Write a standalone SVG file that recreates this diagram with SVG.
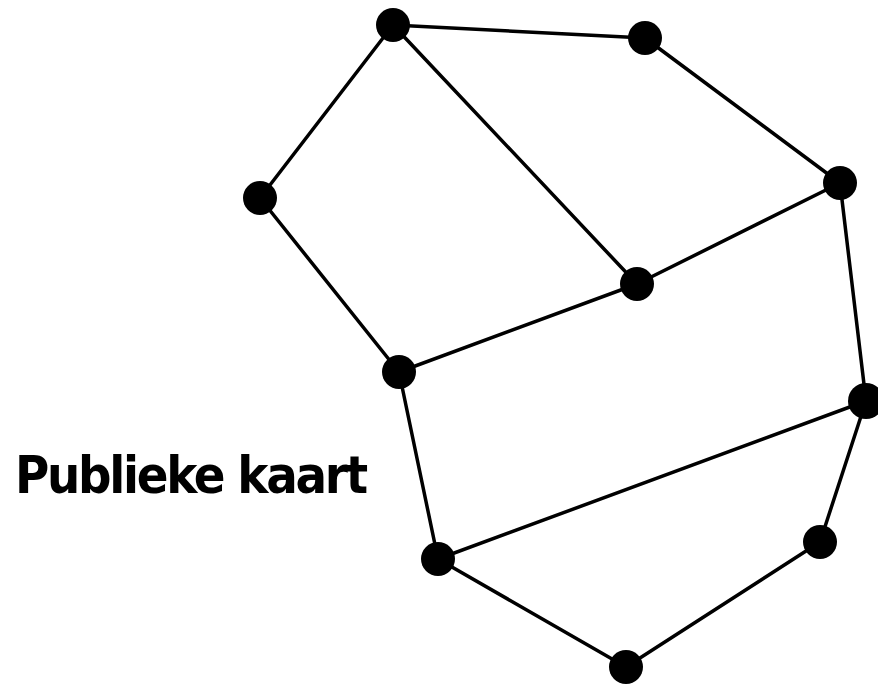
<svg xmlns="http://www.w3.org/2000/svg" width="878" height="686" viewBox="0 0 878 686">
<style>
.e{stroke:#000;stroke-width:3.5;stroke-linecap:round}
.n{fill:#000}
.t{font-family:"DejaVu Sans Condensed","DejaVu Sans",sans-serif;font-weight:bold;font-size:52px;fill:#000}
</style>
<rect width="878" height="686" fill="#fff"/>
<g id="connectors">
<line class="e" x1="393" y1="25" x2="645" y2="38"/>
<line class="e" x1="645" y1="38" x2="840" y2="183"/>
<line class="e" x1="393" y1="25" x2="260" y2="198"/>
<line class="e" x1="393" y1="25" x2="637" y2="284"/>
<line class="e" x1="260" y1="198" x2="399" y2="372"/>
<line class="e" x1="637" y1="284" x2="840" y2="183"/>
<line class="e" x1="399" y1="372" x2="637" y2="284"/>
<line class="e" x1="399" y1="372" x2="438" y2="559"/>
<line class="e" x1="840" y1="183" x2="866" y2="401"/>
<line class="e" x1="438" y1="559" x2="866" y2="401"/>
<line class="e" x1="866" y1="401" x2="820" y2="542"/>
<line class="e" x1="438" y1="559" x2="626" y2="667"/>
<line class="e" x1="626" y1="667" x2="820" y2="542"/>
</g>
<g id="nA"><circle class="n" cx="393" cy="25" r="17"/></g>
<g id="nB"><circle class="n" cx="645" cy="38" r="17"/></g>
<g id="nC"><circle class="n" cx="840" cy="183" r="17"/></g>
<g id="nD"><circle class="n" cx="260" cy="198" r="17"/></g>
<g id="nE"><circle class="n" cx="637" cy="284" r="17"/></g>
<g id="nF"><circle class="n" cx="399" cy="372" r="17"/></g>
<g id="nG"><circle class="n" cx="866" cy="401" r="18"/></g>
<g id="nH"><circle class="n" cx="438" cy="559" r="17"/></g>
<g id="nI"><circle class="n" cx="820" cy="542" r="17"/></g>
<g id="nJ"><circle class="n" cx="626" cy="667" r="17"/></g>
<g id="label"><text class="t" x="15" y="493" textLength="353" lengthAdjust="spacing">Publieke kaart</text></g>
</svg>
